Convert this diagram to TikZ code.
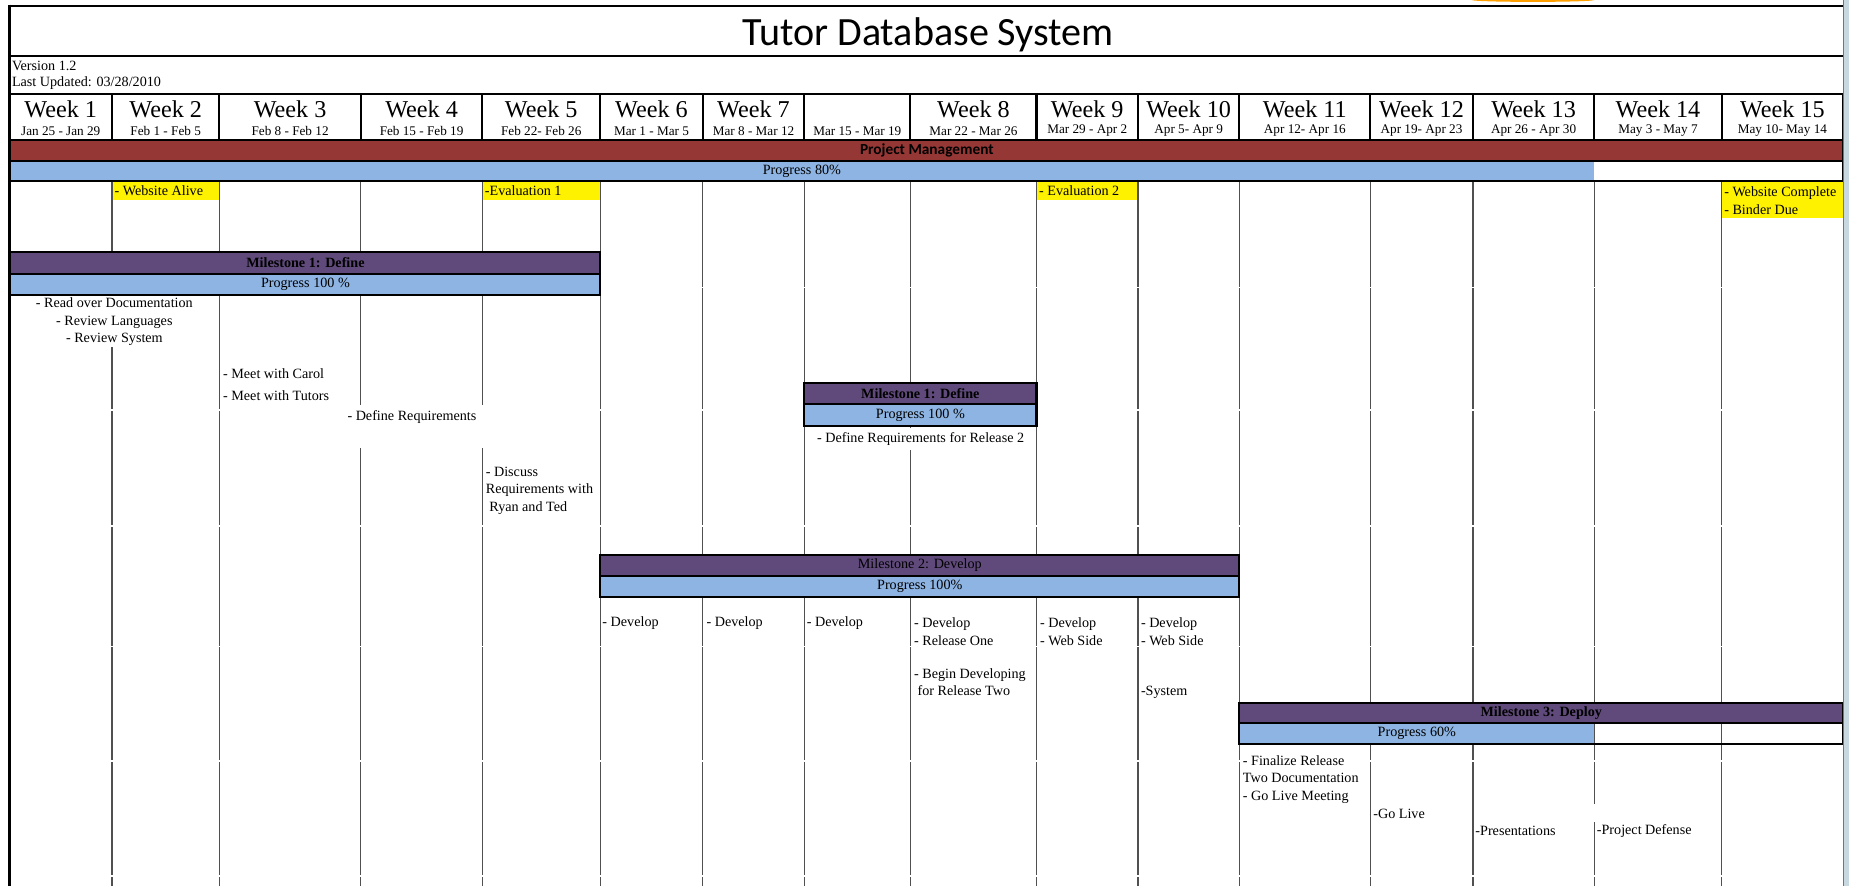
\documentclass[tikz,border=0pt]{standalone}
\usepackage{fontspec}
\setmainfont{Liberation Serif}
\newfontfamily\calfont{Carlito}

\definecolor{pmred}{HTML}{953735}
\definecolor{msviolet}{HTML}{604A7B}
\definecolor{progblue}{HTML}{8DB4E2}
\definecolor{gridgray}{HTML}{505050}
\definecolor{edgeblue}{HTML}{C8D8E0}

\begin{document}
\begin{tikzpicture}[x = 1pt, y = -1pt,
                    frame/.style = {line width=1.8pt, black},
                    gridln/.style = {line width=1.1pt, gridgray},
                    msbar/.style = {draw=black, line width=1.8pt},
                    lbl/.style = {font=\fontsize{12}{15}\selectfont, inner sep=0pt},
                    task/.style = {lbl, anchor=west, align=left},
                    wk/.style = {font=\fontsize{20.5}{20.5}\selectfont, inner sep=0pt},
                    dt/.style = {font=\fontsize{11.2}{11.2}\selectfont, inner sep=0pt},
                    hilite/.style = {fill=yellow}]

    \useasboundingbox (0,0) rectangle (1568,751);
    \fill[white] (0,0) rectangle (1568,751);

    % title block
    \fill[orange!75!yellow] (1300,0) ellipse (52 and 1.6);
    \draw[frame] (8,5) -- (1563,5);
    \draw[frame] (8,47.5) -- (1563,47.5);
    \node[font=\calfont\fontsize{34}{34}\selectfont] (title) at (787,29.5) {Tutor Database System};
    \node[lbl, anchor=west] (version) at (10,56) {Version 1.2};
    \node[lbl, anchor=west] (updated) at (10,70.5) {Last Updated: 03/28/2010};

    % yellow deadlines
    \fill[hilite] (95,153) rectangle (186,170);
    \fill[hilite] (409,153) rectangle (509,170);
    \fill[hilite] (879,153) rectangle (965,170);
    \fill[hilite] (1460,153) rectangle (1563,184.5);

    % body grid
    \foreach \x in {95,186,306,409,509,596,682,772,879,965,1051,1162,1249,1352,1460}
    {
        \draw[gridln] (\x,153) -- (\x,751);
        \foreach \y in {244,347.7,446,548,645.4,743}
            \fill[white] (\x-1,\y-0.6) rectangle (\x+1,\y+0.6);
    }
    \fill[white] (296,343.5) rectangle (412,380);
    \fill[white] (1350.5,682) rectangle (1353.6,697);

    % week header
    \foreach \xa/\xb/\wk/\dt [count=\n] in {8/95/Week 1/Jan 25 - Jan 29,
            95/186/Week 2/Feb 1 - Feb 5, 186/306/Week 3/Feb 8 - Feb 12,
            306/409/Week 4/Feb 15 - Feb 19, 409/509/Week 5/Feb 22- Feb 26,
            509/596/Week 6/Mar 1 - Mar 5, 596/682/Week 7/Mar 8 - Mar 12,
            682/772//Mar 15 - Mar 19, 772/879/Week 8/Mar 22 - Mar 26,
            879/965/Week 9/Mar 29 - Apr 2, 965/1051/Week 10/Apr 5- Apr 9,
            1051/1162/Week 11/Apr 12- Apr 16, 1162/1249/Week 12/Apr 19- Apr 23,
            1249/1352/Week 13/Apr 26 - Apr 30, 1352/1460/Week 14/May 3 - May 7,
            1460/1563/Week 15/May 10- May 14}
    {
        \draw[frame] (\xa,80) rectangle (\xb,118.5);
        \node[wk] (wk\n) at ({(\xa+\xb)/2},92.5) {\wk};
        \node[dt] (dt\n) at ({(\xa+\xb)/2},111) {\dt};
    }

    % project management
    \draw[msbar, fill=pmred] (8,118.5) rectangle (1563,136.8);
    \node[font=\calfont\bfseries\fontsize{13}{13}\selectfont, inner sep=0pt] (pm) at (786,127.7) {Project Management};
    \fill[progblue] (8,136.8) rectangle (1352,153.3);
    \draw[msbar] (8,136.8) rectangle (1563,153.3);
    \node[lbl] (pmprog) at (680,145) {Progress 80\%};

    \node[task] (alive) at (97,161.5) {- Website Alive};
    \node[task] (eval1) at (411,161.5) {-Evaluation 1};
    \node[task] (eval2) at (881,161.5) {- Evaluation 2};
    \node[task] (final) at (1462,170) {- Website Complete\\- Binder Due};

    % milestone 1
    \draw[msbar, fill=msviolet] (8,213.4) rectangle (509,232.3);
    \draw[msbar, fill=progblue] (8,232.3) rectangle (509,250.2);
    \node[lbl, font=\bfseries\fontsize{12}{15}\selectfont] (ms1) at (259,222.8) {Milestone 1: Define};
    \node[lbl] (ms1prog) at (259,241.5) {Progress 100 \%};

    \node[lbl, align=center, fill=white, inner ysep=1pt] (read) at (97,272.8) {- Read over Documentation\\- Review Languages\\- Review System};
    \node[task] (carol) at (189,316.5) {- Meet with Carol};
    \node[task] (tutors) at (189,335.5) {- Meet with Tutors};
    \node[task] (defreq) at (294.5,353.4) {- Define Requirements};
    \node[task] (discuss) at (411.8,416) {- Discuss\\Requirements with\\\hspace*{3pt}Ryan and Ted};

    % milestone 1, release 2
    \draw[msbar, fill=msviolet] (682,324.8) rectangle (879,342.8);
    \draw[msbar, fill=progblue] (682,342.8) rectangle (879,361);
    \node[lbl, font=\bfseries\fontsize{12}{15}\selectfont] (ms1b) at (780.5,333.8) {Milestone 1: Define};
    \node[lbl] (ms1bprog) at (780.5,352) {Progress 100 \%};
    \node[lbl, fill=white, inner ysep=4pt] (defreq2) at (780.7,372.5) {- Define Requirements for Release 2};

    % milestone 2
    \draw[msbar, fill=msviolet] (509,470.7) rectangle (1051,488.3);
    \draw[msbar, fill=progblue] (509,488.3) rectangle (1051,506.6);
    \node[lbl] (ms2) at (780,479.5) {Milestone 2: Develop};
    \node[lbl] (ms2prog) at (780,497.5) {Progress 100\%};

    \node[task] (dev6) at (510.7,528) {- Develop};
    \node[task] (dev7) at (599,528) {- Develop};
    \node[task] (dev8) at (684,528) {- Develop};
    \node[task] (dev9) at (775,535.7) {- Develop\\- Release One};
    \node[task] (begin) at (775,578.5) {- Begin Developing\\\hspace*{3pt}for Release Two};
    \node[task] (dev10) at (881.8,535.7) {- Develop\\- Web Side};
    \node[task] (dev11) at (967.4,535.7) {- Develop\\- Web Side};
    \node[task] (system) at (967.4,587.4) {-System};

    % milestone 3
    \draw[msbar, fill=msviolet] (1051,596) rectangle (1563,613.4);
    \fill[progblue] (1051,613.4) rectangle (1352,631);
    \draw[msbar] (1051,613.4) rectangle (1563,631);
    \node[lbl, font=\bfseries\fontsize{12}{15}\selectfont] (ms3) at (1307,604.7) {Milestone 3: Deploy};
    \node[lbl] (ms3prog) at (1201.5,622.2) {Progress 60\%};

    \node[task] (finalize) at (1053.8,661) {- Finalize Release\\Two Documentation\\- Go Live Meeting};
    \node[task] (golive) at (1164.4,690.6) {-Go Live};
    \node[task] (present) at (1251,704.7) {-Presentations};
    \node[task] (defense) at (1354,704.7) {-Project Defense};

    % page edges
    \draw[line width=2.5pt] (8,4) -- (8,751);
    \fill[edgeblue] (1563,0) rectangle (1568,751);
    \draw[edgeblue!55!black, line width=0.8pt] (1563.4,0) -- (1563.4,751);

\end{tikzpicture}
\end{document}
